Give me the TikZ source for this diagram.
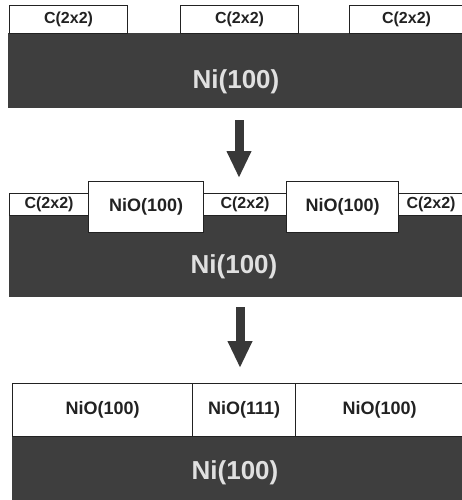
\documentclass[tikz,border=0pt]{standalone}
\usepackage{fontspec}
\setmainfont{Liberation Sans}
\usetikzlibrary{arrows.meta}
\definecolor{slabgray}{RGB}{62,62,62}
\definecolor{ink}{RGB}{34,34,34}
\begin{document}
\begin{tikzpicture}[x=1pt,y=-1pt,
  slab/.style={fill=slabgray, draw=none, inner sep=0pt, anchor=north west},
  nilabel/.style={text=white!88!black, inner sep=0pt, font=\bfseries\fontsize{26}{26}\selectfont},
  lbox/.style={fill=white, draw=ink, line width=1.1pt, inner sep=0pt, anchor=north west, text=ink, font=\bfseries\fontsize{18}{18}\selectfont},
  cbox/.style={lbox, font=\bfseries\fontsize{16}{16}\selectfont},
  downarrow/.style={line width=9pt, draw=ink!90, -{Triangle[length=27pt,width=23pt]}}]
\useasboundingbox[fill=white] (0,0) rectangle (462,500);
% panel 1
\node[slab, minimum width=455pt, minimum height=75pt] (s1) at (8,33) {};
\node[nilabel] (n1) at (236,82) {Ni(100)};
\node[cbox, minimum width=118pt, minimum height=28pt] (p1c1) at (9,5) {C(2x2)};
\node[cbox, minimum width=118pt, minimum height=28pt] (p1c2) at (180,5) {C(2x2)};
\node[cbox, minimum width=114pt, minimum height=28pt] (p1c3) at (349,5) {C(2x2)};
% arrow 1
\coordinate (a1) at (239,120);
\coordinate (b1) at (239,178);
\draw[downarrow] (a1) -- (b1);
% panel 2
\node[slab, minimum width=454pt, minimum height=82pt] (s2) at (9,215) {};
\node[nilabel] (n2) at (234,267) {Ni(100)};
\node[cbox, minimum width=79pt, minimum height=22pt] (p2c1) at (9,193) {C(2x2)};
\node[lbox, minimum width=115pt, minimum height=51pt] (p2n1) at (88,181) {NiO(100)};
\node[cbox, minimum width=83pt, minimum height=22pt] (p2c2) at (203,193) {C(2x2)};
\node[lbox, minimum width=112pt, minimum height=51pt] (p2n2) at (286,181) {NiO(100)};
\node[cbox, minimum width=65pt, minimum height=22pt] (p2c3) at (398,193) {C(2x2)};
% arrow 2
\coordinate (a2) at (240,307);
\coordinate (b2) at (240,368);
\draw[downarrow] (a2) -- (b2);
% panel 3
\node[slab, minimum width=451pt, minimum height=64pt] (s3) at (12,436) {};
\node[nilabel] (n3) at (235,473) {Ni(100)};
\node[lbox, minimum width=180pt, minimum height=53pt] (p3n1) at (12,383) {NiO(100)};
\node[lbox, minimum width=103pt, minimum height=53pt] (p3n2) at (192,383) {NiO(111)};
\node[lbox, minimum width=168pt, minimum height=53pt] (p3n3) at (295,383) {NiO(100)};
\end{tikzpicture}
\end{document}
